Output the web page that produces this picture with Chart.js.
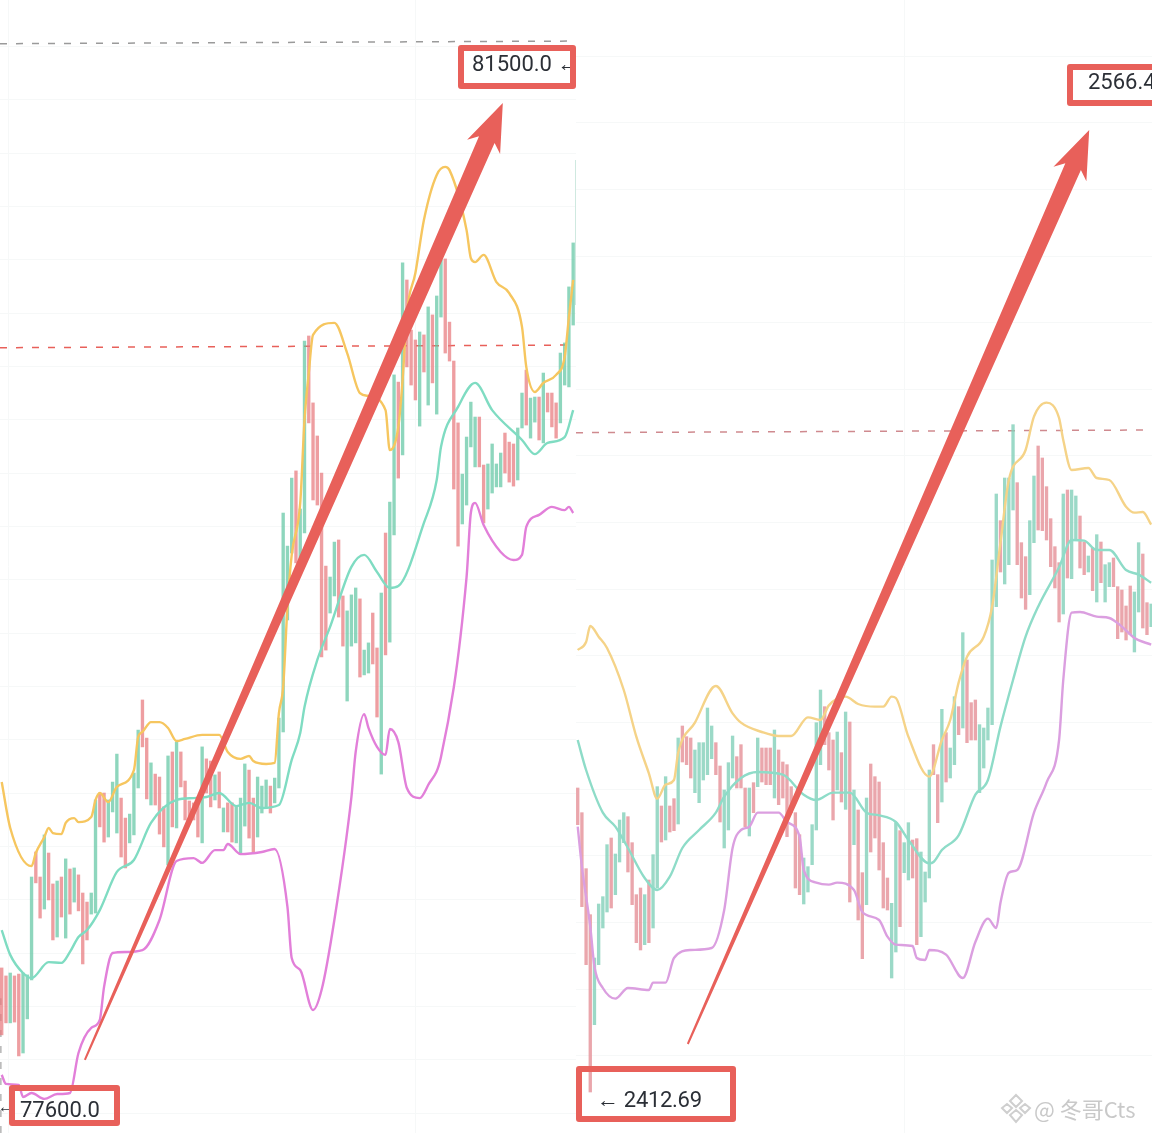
<!DOCTYPE html>
<html>
<head>
<meta charset="utf-8">
<script src="https://cdn.jsdelivr.net/npm/chart.js@4"></script>
<style>
  html, body { margin: 0; padding: 0; background: #fff; }
  #page { position: relative; width: 1152px; height: 1133px; overflow: hidden; }
  canvas { position: absolute; top: 0; filter: blur(0.5px); }
  #leftChart { left: 0; }
  #rightChart { left: 576px; }
  .box { position: absolute; border: 6px solid #e8605a; border-radius: 3px; box-sizing: border-box; overflow: hidden; }
  .price { position: absolute; font: 22px Roboto, sans-serif; color: #2b2f36; white-space: nowrap; }
  #mark { position: absolute; left: 1000px; top: 1092px; width: 152px; height: 32px; color: #c9c9c9; }
  #mark span { position: absolute; left: 34px; top: 0; font: 22px "Noto Sans CJK SC", sans-serif; white-space: nowrap; }
</style>
</head>
<body>
<div id="page">
  <canvas id="leftChart" width="576" height="1133"></canvas>
  <canvas id="rightChart" width="576" height="1133"></canvas>

  <div class="price" style="left:472px;top:51px">81500.0 ←</div>
  <div class="box" style="left:458px;top:45px;width:118px;height:44px"></div>

  <div class="price" style="left:20px;top:1097px">77600.0</div>
  <div class="price" style="left:-2px;top:1097px;font-size:16px">←</div>
  <div class="box" style="left:9px;top:1085px;width:111px;height:41px"></div>

  <div class="price" style="left:1088px;top:69px">2566.4</div>
  <div class="box" style="left:1067px;top:64px;width:100px;height:42px"></div>

  <div class="price" style="left:597px;top:1087px;letter-spacing:-0.3px">← 2412.69</div>
  <div class="box" style="left:576px;top:1066px;width:160px;height:56px"></div>

  <div id="mark">
    <svg width="32" height="32" viewBox="0 0 32 32" style="position:absolute;left:0;top:0">
      <path d="M16 3 L22 9 L16 15 L10 9 Z M7 12 L12 16 L7 21 L2 16 Z M25 12 L30 16 L25 21 L20 16 Z M16 18 L22 23 L16 30 L10 23 Z" fill="none" stroke="#cfcfcf" stroke-width="2"/>
    </svg>
    <span>@ 冬哥Cts</span>
  </div>
</div>

<script>
// left panel, price per bar
const leftOpen = [
  78114,78084,77908,78084,78091,77795,77923,78069,78549,78455,
  78335,78545,78429,78230,78455,78226,78485,78361,78463,78395,
  78361,78316,78320,78770,78770,78605,78699,78620,78751,78676,
  78583,78613,78789,79119,78976,78725,78841,78830,78718,78500,
  78924,78639,78924,78815,78740,78733,78733,78583,78898,78890,
  78744,78849,78624,78733,78733,78583,78541,78646,78856,78751,
  78605,78695,78718,78796,78733,78789,78999,79419,79670,79978,
  79644,79745,80484,80233,80109,79970,79621,79445,79509,79719,
  79509,79115,79321,79333,79498,79213,79220,79445,79314,78841,
  79745,79336,79738,80311,80038,80694,80506,80469,80146,80488,
  80225,80563,80191,80555,80773,80536,80390,80158,79779,79850,
  80068,79993,80180,80000,79835,79895,79918,79918,80120,80086,
  80079,79944,80139,80356,80101,80161,80255,80083,80270,80270,
  80233,80158,80300,80293,80525
];
const leftClose = [
  77863,77908,78095,77911,77784,78095,78088,78455,78433,78301,
  78613,78369,78219,78440,78305,78523,78316,78489,78328,78129,
  78219,78395,78744,78643,78586,78744,78811,78916,78530,78489,
  78691,78845,79006,78943,78748,78883,78725,78616,78568,78909,
  78643,78961,78793,78669,78658,78669,78605,78943,78770,78718,
  78838,78714,78714,78624,78586,78718,78751,78879,78601,78549,
  78830,78796,78819,78695,78826,79051,79820,79696,79951,79633,
  79835,80465,80158,79869,79850,79280,79306,79580,79711,79430,
  79321,79453,79513,79539,79205,79306,79333,79254,79055,79520,
  79288,79861,80338,79951,80758,80368,80300,80244,80499,80349,
  80593,80308,80634,80769,80420,80390,79910,79696,79966,80105,
  80236,80180,79993,79783,80004,80079,80004,80045,79970,79936,
  79921,80139,80270,80150,80251,80255,80094,80345,80199,80143,
  80101,80420,80458,80668,80833
];

const leftUpperAt = [0,2,7,8,10,11,12,14,15,17,18,21,22,23,25,27,31,32,33,35,37,39,41,43,47,51,53,56,58,59,62,64,65,66,67,68,70,71,72,73,78,81,84,86,90,91,93,94,95,97,99,102,104,105,109,110,111,113,116,119,122,123,125,127,130,132,133,134];
const leftUpper = [78811,78639,78496,78545,78605,78639,78620,78616,78658,78676,78661,78680,78744,78770,78736,78793,78856,78980,78999,79036,79036,79014,78965,78973,78988,78988,78924,78898,78909,78890,78879,78883,79070,79168,79468,79663,79858,80169,80345,80488,80533,80420,80270,80259,80206,80056,80143,80319,80570,80720,80919,81088,81118,81106,80881,80776,80761,80788,80686,80645,80518,80368,80274,80308,80338,80405,80555,80694];

const leftMiddleAt = [0,2,5,7,11,14,16,18,20,23,27,31,35,41,45,48,51,55,58,61,65,68,70,71,74,77,82,85,88,91,93,99,102,103,107,111,115,122,125,128,132,134];
const leftMiddle = [78256,78163,78095,78076,78136,78133,78174,78230,78256,78331,78474,78519,78658,78744,78751,78755,78770,78721,78733,78714,78725,78894,78995,79093,79269,79393,79618,79663,79599,79539,79546,79783,79944,80068,80218,80308,80206,80094,80041,80083,80105,80206];

const leftLowerAt = [0,1,4,5,7,10,13,16,18,21,23,24,26,29,33,37,41,45,47,50,52,53,56,61,64,67,68,70,73,75,78,82,83,85,86,88,90,91,93,95,98,100,103,109,110,111,113,117,120,122,123,126,129,132,133,134];
const leftLower = [77713,77679,77675,77630,77645,77623,77641,77645,77795,77889,77919,78043,78170,78174,78181,78294,78515,78526,78508,78556,78556,78579,78541,78549,78560,78343,78151,78106,77956,78031,78294,78755,78924,79066,79014,78943,78913,79010,78961,78789,78751,78800,78905,79580,79820,79858,79775,79674,79644,79663,79768,79813,79843,79831,79843,79820];

const leftHighLine = [81580, 81590];
const leftRedLine = [80440, 80450];
const leftEdgeWick = [80600, 81144];
const leftArrowFrom = [19.5, 77769];
const leftArrowTo = [117.5, 81358];
const leftGrid = [77570,77770,77970,78170,78370,78570,78770,78970,79170,79370,79570,79770,79970,80170,80370,80570,80770,80970,81170,81370,81570];
const leftVerticals = [1.5, 97];

// right panel
const rightOpen = [
  2460.2,2456.5,2448.1,2441.2,2424.7,2433.7,2439.2,2441.6,2452.7,2444.2,
  2449.1,2452.0,2455.9,2452.0,2444.2,2445.2,2436.7,2446.4,2439.2,2445.2,
  2457.5,2452.4,2457.5,2458.6,2454.8,2469.5,2467.9,2467.7,2459.5,2458.0,
  2461.4,2462.2,2464.6,2467.0,2463.5,2451.2,2453.9,2461.7,2464.9,2466.7,
  2460.2,2453.0,2461.0,2460.4,2466.2,2466.2,2466.2,2458.7,2465.9,2464.1,
  2463.7,2460.4,2456.5,2453.2,2442.8,2444.6,2448.7,2453.9,2463.7,2472.4,
  2468.5,2467.4,2459.9,2465.5,2457.0,2470.1,2451.7,2456.9,2447.5,2442.7,
  2463.8,2461.9,2461.1,2452.0,2446.7,2431.7,2435.6,2453.8,2447.5,2446.4,
  2452.4,2452.6,2437.9,2443.1,2446.7,2466.7,2462.2,2458.1,2468.5,2461.7,
  2463.7,2472.4,2469.2,2479.4,2473.0,2473.4,2459.5,2463.2,2467.4,2469.7,
  2487.4,2500.3,2490.8,2493.7,2501.9,2506.0,2497.0,2494.9,2489.2,2497.0,
  2511.5,2509.7,2505.4,2500.6,2496.4,2494.0,2486.3,2504.9,2491.6,2497.4,
  2501.0,2497.1,2492.6,2496.2,2488.1,2497.1,2488.1,2490.4,2494.7,2490.4,
  2489.9,2487.5,2490.5,2480.6,2486.6,2495.3,2488.0,2484.4
];
const rightClose = [
  2454.7,2442.4,2433.7,2414.6,2434.7,2442.8,2443.9,2451.7,2442.2,2450.3,
  2455.4,2456.5,2447.6,2442.7,2437.0,2435.9,2444.2,2437.0,2450.2,2460.4,
  2452.1,2461.9,2453.6,2453.8,2467.7,2464.1,2463.7,2461.7,2465.9,2467.0,
  2467.0,2472.2,2469.5,2462.2,2455.1,2459.9,2464.0,2468.0,2460.2,2460.2,
  2454.4,2460.2,2456.5,2467.7,2461.1,2460.7,2460.7,2468.9,2457.7,2458.7,
  2452.9,2456.5,2445.2,2444.2,2449.7,2448.4,2454.7,2470.0,2474.9,2466.7,
  2462.9,2455.4,2468.6,2458.1,2471.6,2443.1,2459.9,2440.4,2434.6,2458.7,
  2450.6,2452.7,2447.9,2442.2,2441.9,2442.9,2455.0,2439.4,2452.0,2455.0,
  2446.7,2436.7,2450.6,2447.6,2462.9,2462.2,2455.0,2472.0,2461.1,2466.2,
  2473.9,2468.2,2483.5,2467.0,2467.4,2467.4,2469.7,2469.2,2472.2,2494.4,
  2504.3,2492.6,2506.7,2506.7,2514.7,2493.7,2488.7,2487.0,2500.3,2507.0,
  2498.9,2498.8,2497.4,2493.4,2490.2,2485.1,2504.3,2491.7,2504.9,2504.0,
  2493.2,2492.2,2495.0,2489.8,2498.2,2491.0,2493.7,2494.0,2490.4,2482.6,
  2483.6,2482.4,2483.2,2489.6,2497.0,2484.2,2483.2,2487.8
];

const rightUpperAt = [0,2,3,5,7,11,14,17,19,21,23,24,28,33,37,39,44,48,51,55,58,60,64,67,71,73,75,76,79,84,87,89,91,93,97,99,101,103,107,109,112,115,116,118,122,124,127,131,133,135,137];
const rightUpper = [2480.9,2482.1,2484.5,2482.9,2481.2,2474.9,2467.9,2462.4,2458.6,2460.7,2461.4,2465.5,2470.0,2475.5,2471.4,2470.0,2468.6,2468.0,2468.0,2470.8,2470.4,2472.6,2473.9,2472.8,2472.4,2472.4,2473.9,2473.7,2467.9,2461.9,2467.4,2470.4,2476.0,2479.9,2482.9,2487.4,2497.0,2506.4,2510.9,2515.9,2518.0,2515.7,2512.4,2507.9,2508.2,2506.7,2506.4,2502.4,2501.5,2501.6,2499.7];

const rightMiddleAt = [0,2,6,9,12,16,19,22,25,29,33,35,39,43,49,54,57,61,65,69,72,76,79,84,85,87,91,95,98,101,104,107,110,115,118,121,124,127,131,134,137];
const rightMiddle = [2467.4,2462.9,2456.5,2454.4,2451.2,2446.7,2444.9,2446.9,2451.2,2453.9,2456.5,2458.9,2461.7,2462.6,2462.2,2459.2,2458.4,2459.5,2459.5,2456.5,2456.1,2455.1,2452.4,2448.9,2449.1,2450.9,2453.1,2459.2,2461.4,2469.4,2476.4,2482.9,2487.4,2493.3,2497.4,2497.3,2495.9,2495.9,2492.9,2492.2,2491.0];

const rightLowerAt = [0,1,3,4,6,9,12,17,18,21,23,27,32,35,37,39,41,43,48,50,53,54,57,60,62,66,68,72,74,76,80,81,83,84,88,92,95,98,100,101,103,105,109,112,115,116,118,120,124,127,130,133,137];
const rightLower = [2454.4,2448.4,2439.4,2433.4,2430.2,2428.6,2430.2,2429.9,2431.0,2431.0,2434.7,2435.9,2436.2,2441.9,2451.2,2453.9,2454.4,2456.5,2456.5,2455.1,2452.9,2447.9,2446.0,2445.7,2446.0,2444.9,2441.6,2440.4,2437.9,2436.7,2436.5,2434.7,2434.4,2435.9,2435.2,2431.7,2437.1,2440.6,2439.2,2443.0,2447.5,2447.9,2456.5,2461.0,2467.4,2476.4,2486.5,2486.6,2485.9,2485.7,2484.4,2482.7,2481.7];

const rightRedLine = [2513.5, 2513.9];
const rightArrowFrom = [26.3, 2421.8];
const rightArrowTo = [122.2, 2558.9];
const rightGrid = [2420,2430,2440,2450,2460,2470,2480,2490,2500,2510,2520,2530,2540,2550,2560,2570];
const rightVerticals = [78];

const ARROW_RED = "#e8605a";

// tapered trend arrow, positioned through the chart scales
const arrowPlugin = {
  id: "trendArrow",
  afterDatasetsDraw(chart, args, opts) {
    const { ctx, scales } = chart;
    const x0 = scales.x.getPixelForValue(opts.from[0]);
    const y0 = scales.y.getPixelForValue(opts.from[1]);
    const x1 = scales.x.getPixelForValue(opts.to[0]);
    const y1 = scales.y.getPixelForValue(opts.to[1]);
    const len = Math.hypot(x1 - x0, y1 - y0);
    const ux = (x1 - x0) / len, uy = (y1 - y0) / len;
    const px = -uy, py = ux;
    const at = (back, side) => [x1 - ux * back + px * side, y1 - uy * back + py * side];
    const tail = 1, neck = 8.5;
    ctx.save();
    ctx.fillStyle = ARROW_RED;
    ctx.beginPath();
    ctx.moveTo(x0 + px * tail, y0 + py * tail);
    ctx.lineTo(...at(40, neck));
    ctx.lineTo(...at(48, 18));
    ctx.lineTo(x1, y1);
    ctx.lineTo(...at(48, -18));
    ctx.lineTo(...at(40, -neck));
    ctx.lineTo(x0 - px * tail, y0 - py * tail);
    ctx.closePath();
    ctx.fill();
    ctx.restore();
  }
};

function band(at, values, color) {
  return {
    type: "line",
    data: at.map((x, i) => ({ x: x, y: values[i] })),
    borderColor: color,
    borderWidth: 2.4,
    pointRadius: 0,
    cubicInterpolationMode: "monotone",
    order: 0
  };
}

function level(x0, x1, values, color) {
  return {
    type: "line",
    data: [{ x: x0, y: values[0] }, { x: x1, y: values[1] }],
    borderColor: color,
    borderWidth: 1.5,
    borderDash: [7, 9],
    pointRadius: 0,
    order: 2
  };
}

function drawPanel(id, cfg) {
  new Chart(document.getElementById(id), {
    data: {
      datasets: [
        {
          type: "bar",
          data: cfg.open.map((o, i) => ({ x: i, y: [o, cfg.close[i]] })),
          backgroundColor: cfg.open.map((o, i) => cfg.close[i] >= o ? cfg.green : cfg.red),
          barThickness: 2.7,
          order: 1
        },
        band(cfg.upperAt, cfg.upper, cfg.yellow),
        band(cfg.middleAt, cfg.middle, cfg.teal),
        band(cfg.lowerAt, cfg.lower, cfg.purple),
        ...cfg.levels
      ]
    },
    options: {
      responsive: false,
      animation: false,
      layout: { padding: 0 },
      plugins: {
        legend: { display: false },
        tooltip: { enabled: false },
        trendArrow: { from: cfg.arrowFrom, to: cfg.arrowTo }
      },
      scales: {
        x: {
          type: "linear",
          offset: false,
          min: cfg.xMin,
          max: cfg.xMax,
          border: { display: false },
          grid: { color: "#f6f8f8", drawTicks: false, offset: false },
          ticks: { display: false },
          afterBuildTicks: s => { s.ticks = cfg.verticals.map(v => ({ value: v })); }
        },
        y: {
          min: cfg.yMin,
          max: cfg.yMax,
          border: { display: false },
          grid: { color: "#f6f8f8", drawTicks: false },
          ticks: { display: false },
          afterBuildTicks: s => { s.ticks = cfg.grid.map(v => ({ value: v })); }
        }
      }
    },
    plugins: [arrowPlugin]
  });
}

drawPanel("leftChart", {
  open: leftOpen, close: leftClose,
  upperAt: leftUpperAt, upper: leftUpper,
  middleAt: leftMiddleAt, middle: leftMiddle,
  lowerAt: leftLowerAt, lower: leftLower,
  green: "rgba(98,198,163,0.72)", red: "rgba(232,120,125,0.72)",
  yellow: "#f6c65f", teal: "#7fdcc2", purple: "#e27fd9",
  xMin: -0.4, xMax: 134.66, yMin: 77495, yMax: 81744,
  grid: leftGrid, verticals: leftVerticals,
  arrowFrom: leftArrowFrom, arrowTo: leftArrowTo,
  levels: [
    level(-0.4, 134.66, leftHighLine, "#9a9a9a"),
    level(-0.4, 134.66, leftRedLine, "#e8605a"),
    level(-0.2, -0.2, [77495, 78000], "#b5b5b5"),
    {
      type: "line",
      data: [{ x: 134.55, y: leftEdgeWick[0] }, { x: 134.55, y: leftEdgeWick[1] }],
      borderColor: "#cfe9e0",
      borderWidth: 1,
      pointRadius: 0,
      order: 2
    }
  ]
});

drawPanel("rightChart", {
  open: rightOpen, close: rightClose,
  upperAt: rightUpperAt, upper: rightUpper,
  middleAt: rightMiddleAt, middle: rightMiddle,
  lowerAt: rightLowerAt, lower: rightLower,
  green: "rgba(130,208,185,0.8)", red: "rgba(230,150,158,0.85)",
  yellow: "#f5d388", teal: "#8edcc8", purple: "#db9fe0",
  xMin: -0.41, xMax: 137.2, yMin: 2408.45, yMax: 2578.4,
  grid: rightGrid, verticals: rightVerticals,
  arrowFrom: rightArrowFrom, arrowTo: rightArrowTo,
  levels: [level(-0.41, 137.2, rightRedLine, "#cf8a8f")]
});
</script>
</body>
</html>
